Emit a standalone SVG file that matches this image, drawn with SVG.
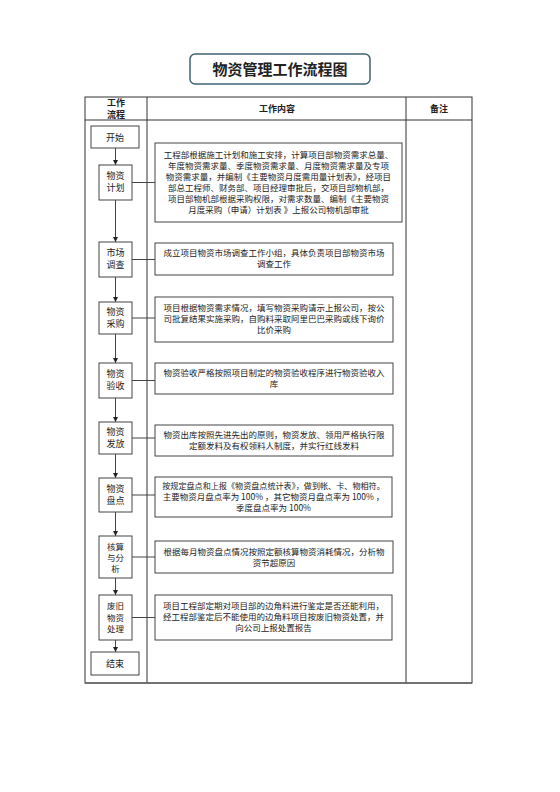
<svg xmlns="http://www.w3.org/2000/svg" width="560" height="792" viewBox="0 0 560 792">
<defs>
<marker id="ah" viewBox="0 0 10 10" refX="10" refY="5" markerWidth="5" markerHeight="5" orient="auto" markerUnits="userSpaceOnUse">
<path d="M0,0 L10,5 L0,10 z" fill="#222"/>
</marker>
<style>
text{font-family:"Noto Sans CJK SC","Noto Sans",sans-serif;fill:#222;}
.t{font-size:8.5px;text-anchor:middle;}
.n{font-size:9px;text-anchor:middle;}
.n3{font-size:8.5px;text-anchor:middle;}
.h{font-size:9px;font-weight:bold;text-anchor:middle;}
.box{fill:#fff;stroke:#444;stroke-width:1;}
.grid{stroke:#333;stroke-width:1;fill:none;}
.conn{stroke:#444;stroke-width:1;fill:none;}
</style>
</defs>
<rect width="560" height="792" fill="#fff"/>
<g id="title">
<rect x="190" y="54" width="180" height="30" rx="5" fill="#fff" stroke="#3f6474" stroke-width="1.5"/>
<text x="280" y="74.5" style="font-size:15px;font-weight:bold;text-anchor:middle;">物资管理工作流程图</text>
</g>
<g id="table">
<rect x="85" y="97" width="387" height="586" class="grid"/>
<line x1="85" y1="120" x2="472" y2="120" class="grid"/>
<line x1="147" y1="97" x2="147" y2="683" class="grid"/>
<line x1="406" y1="97" x2="406" y2="683" class="grid"/>
<line x1="85" y1="683" x2="472" y2="683" stroke="#666" stroke-width="1.6"/>
<text x="116" y="106" class="h">工作</text>
<text x="116" y="117.8" class="h">流程</text>
<text x="277" y="112" class="h">工作内容</text>
<text x="439" y="112" class="h">备注</text>
</g>
<g id="connectors">
<line x1="115.5" y1="148" x2="115.5" y2="165" class="conn" marker-end="url(#ah)"/>
<line x1="115.5" y1="200" x2="115.5" y2="242" class="conn" marker-end="url(#ah)"/>
<line x1="115.5" y1="277" x2="115.5" y2="302" class="conn" marker-end="url(#ah)"/>
<line x1="115.5" y1="334" x2="115.5" y2="363" class="conn" marker-end="url(#ah)"/>
<line x1="115.5" y1="398" x2="115.5" y2="422" class="conn" marker-end="url(#ah)"/>
<line x1="115.5" y1="454" x2="115.5" y2="478" class="conn" marker-end="url(#ah)"/>
<line x1="115.5" y1="512" x2="115.5" y2="536" class="conn" marker-end="url(#ah)"/>
<line x1="115.5" y1="578" x2="115.5" y2="595" class="conn" marker-end="url(#ah)"/>
<line x1="115.5" y1="640" x2="115.5" y2="652" class="conn" marker-end="url(#ah)"/>
<line x1="132" y1="182.5" x2="155" y2="182.5" class="conn"/>
<line x1="132" y1="259.5" x2="155" y2="259.5" class="conn"/>
<line x1="132" y1="318" x2="155" y2="318" class="conn"/>
<line x1="132" y1="380.5" x2="155" y2="380.5" class="conn"/>
<line x1="132" y1="438" x2="155" y2="438" class="conn"/>
<line x1="132" y1="495" x2="155" y2="495" class="conn"/>
<line x1="132" y1="557" x2="155" y2="557" class="conn"/>
<line x1="132" y1="617.5" x2="155" y2="617.5" class="conn"/>
</g>
<g id="n-start"><rect x="91" y="126" width="48" height="22" class="box"/><text x="115" y="140.5" class="n">开始</text></g>
<g id="n-plan"><rect x="99" y="165" width="33" height="35" class="box"/><text x="115.5" y="178.5" class="n">物资</text><text x="115.5" y="190.5" class="n">计划</text></g>
<g id="n-market"><rect x="99" y="242" width="33" height="35" class="box"/><text x="115.5" y="255.5" class="n">市场</text><text x="115.5" y="267.5" class="n">调查</text></g>
<g id="n-buy"><rect x="99" y="302" width="33" height="32" class="box"/><text x="115.5" y="314.5" class="n">物资</text><text x="115.5" y="326.5" class="n">采购</text></g>
<g id="n-check"><rect x="99" y="363" width="33" height="35" class="box"/><text x="115.5" y="376.5" class="n">物资</text><text x="115.5" y="388.5" class="n">验收</text></g>
<g id="n-issue"><rect x="99" y="422" width="33" height="32" class="box"/><text x="115.5" y="435" class="n">物资</text><text x="115.5" y="447" class="n">发放</text></g>
<g id="n-count"><rect x="99" y="478" width="33" height="34" class="box"/><text x="115.5" y="491.5" class="n">物资</text><text x="115.5" y="503.5" class="n">盘点</text></g>
<g id="n-analysis"><rect x="99" y="536" width="33" height="42" class="box"/><text x="115.5" y="549.5" class="n3">核算</text><text x="115.5" y="560.5" class="n3">与分</text><text x="115.5" y="571.5" class="n3">析</text></g>
<g id="n-waste"><rect x="99" y="595" width="33" height="45" class="box"/><text x="115.5" y="609" class="n3">废旧</text><text x="115.5" y="620.5" class="n3">物资</text><text x="115.5" y="632" class="n3">处理</text></g>
<g id="n-end"><rect x="91" y="652" width="48" height="23" class="box"/><text x="115" y="667" class="n">结束</text></g>
<g id="c-plan"><rect x="155" y="143" width="247" height="79" class="box"/>
<text x="278.5" y="158" class="t">工程部根据施工计划和施工安排，计算项目部物资需求总量、</text>
<text x="278.5" y="169" class="t">年度物资需求量、季度物资需求量、月度物资需求量及专项</text>
<text x="278.5" y="180" class="t">物资需求量，并编制《主要物资月度需用量计划表》，经项目</text>
<text x="278.5" y="191" class="t">部总工程师、财务部、项目经理审批后，交项目部物机部，</text>
<text x="278.5" y="202" class="t">项目部物机部根据采购权限，对需求数量、编制《主要物资</text>
<text x="278.5" y="213" class="t">月度采购（申请）计划表 》上报公司物机部审批</text></g>
<g id="c-market"><rect x="155" y="243" width="238" height="32" class="box"/>
<text x="274" y="256" class="t">成立项目物资市场调查工作小组，具体负责项目部物资市场</text>
<text x="274" y="267" class="t">调查工作</text></g>
<g id="c-buy"><rect x="155" y="297" width="238" height="45" class="box"/>
<text x="274" y="311" class="t">项目根据物资需求情况，填写物资采购请示上报公司，按公</text>
<text x="274" y="322" class="t">司批复结果实施采购，自购料采取阿里巴巴采购或线下询价</text>
<text x="274" y="333" class="t">比价采购</text></g>
<g id="c-check"><rect x="155" y="363" width="238" height="31" class="box"/>
<text x="274" y="376" class="t">物资验收严格按照项目制定的物资验收程序进行物资验收入</text>
<text x="274" y="387" class="t">库</text></g>
<g id="c-issue"><rect x="155" y="425" width="238" height="31" class="box"/>
<text x="274" y="438" class="t">物资出库按照先进先出的原则，物资发放、领用严格执行限</text>
<text x="274" y="449" class="t">定额发料及有权领料人制度，并实行红线发料</text></g>
<g id="c-count"><rect x="155" y="477" width="237" height="40" class="box"/>
<text x="273.5" y="489" class="t" style="font-size:8.1px">按规定盘点和上报《物资盘点统计表》，做到帐、卡、物相符。</text>
<text x="273.5" y="500" class="t">主要物资月盘点率为 100% ，其它物资月盘点率为 100% ，</text>
<text x="273.5" y="511" class="t">季度盘点率为 100%</text></g>
<g id="c-analysis"><rect x="155" y="541" width="238" height="32" class="box"/>
<text x="274" y="554.5" class="t">根据每月物资盘点情况按照定额核算物资消耗情况，分析物</text>
<text x="274" y="565.5" class="t">资节超原因</text></g>
<g id="c-waste"><rect x="155" y="595" width="237" height="45" class="box"/>
<text x="273.5" y="609" class="t">项目工程部定期对项目部的边角料进行鉴定是否还能利用，</text>
<text x="273.5" y="620" class="t">经工程部鉴定后不能使用的边角料项目按废旧物资处置，并</text>
<text x="273.5" y="631" class="t">向公司上报处置报告</text></g>
</svg>
